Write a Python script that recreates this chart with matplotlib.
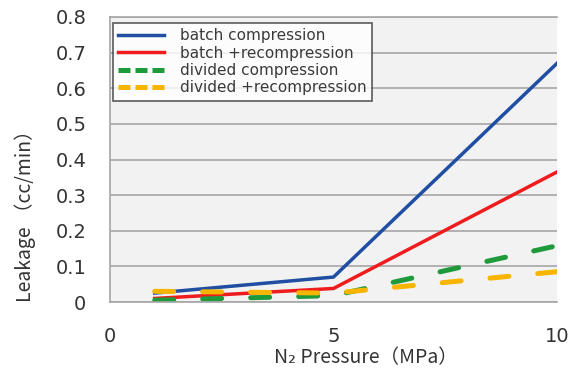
import matplotlib.pyplot as plt

plt.rcParams['font.family'] = ['Noto Sans CJK JP', 'DejaVu Sans']

pressure = [1, 5, 10]
batch_comp = [0.025, 0.07, 0.67]
batch_recomp = [0.01, 0.038, 0.365]
divided_comp = [0.005, 0.018, 0.158]
divided_recomp = [0.03, 0.025, 0.085]
labels = ['batch compression', 'batch +recompression',
          'divided compression', 'divided +recompression']

fig = plt.figure(figsize=(5.79, 3.71), dpi=100)
ax = fig.add_axes([110 / 579, 1 - 302 / 371, 447 / 579, 285 / 371])
ax.set_facecolor('#f2f2f2')

ax.plot(pressure, batch_comp, color='#1f4ea3', lw=2.5, label=labels[0])
ax.plot(pressure, batch_recomp, color='#ee1c1c', lw=2.5, label=labels[1])
ax.plot(pressure, divided_comp, color='#1e9a3a', lw=3.6, ls=(0, (3.8, 5.8)),
        dash_capstyle='round', label=labels[2])
ax.plot(pressure, divided_recomp, color='#f7b500', lw=3.6, ls=(0, (3.8, 5.8)),
        dash_capstyle='round', label=labels[3])

ax.set_xlim(0, 10)
ax.set_ylim(0, 0.8)
ax.set_xticks([0, 5, 10])
ax.set_yticks([0, 0.1, 0.2, 0.3, 0.4, 0.5, 0.6, 0.7, 0.8])
ax.set_yticklabels(['0', '0.1', '0.2', '0.3', '0.4', '0.5', '0.6', '0.7', '0.8'])
ax.yaxis.grid(True, color='#a6a6a6', lw=1.2)
ax.set_axisbelow(True)
ax.tick_params(length=0, labelsize=14, colors='#333333')
ax.tick_params(axis='x', pad=18)
ax.tick_params(axis='y', pad=17)
for t in ax.get_xticklabels() + ax.get_yticklabels():
    t.set_family('DejaVu Sans')
for s in ['left', 'bottom', 'top']:
    ax.spines[s].set_color('#a6a6a6')
    ax.spines[s].set_linewidth(1.2)
ax.spines['right'].set_visible(False)

ax.set_ylabel('Leakage \uff08cc/min\uff09', fontsize=14, color='#333333', va='center')
ax.yaxis.set_label_coords(-0.19, 0.32)
ax.set_xlabel('N\u2082 Pressure\uff08MPa\uff09', fontsize=14, color='#333333', va='top')
ax.xaxis.set_label_coords(0.573, -0.16)

leg = ax.legend(loc='upper left', bbox_to_anchor=(0.007, 0.979),
                prop={'family': ['DejaVu Sans'], 'size': 11},
                frameon=True, fancybox=False, edgecolor='#333333',
                handlelength=3.0, labelspacing=0.15, borderpad=0.35,
                borderaxespad=0, handletextpad=1.0)
leg.get_frame().set_linewidth(1.2)
leg.get_frame().set_facecolor('white')
for t in leg.get_texts():
    t.set_color('#3a3a3a')
for ln in leg.get_lines()[2:]:
    ln.set_linestyle((0, (2.4, 1.0)))
    ln.set_dash_capstyle('butt')

fig.savefig('out.png', dpi=100)
